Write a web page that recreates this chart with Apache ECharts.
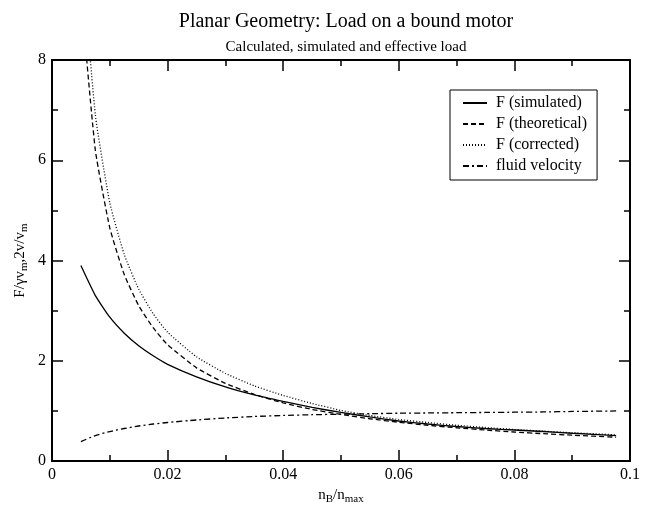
<!DOCTYPE html>
<html>
<head>
<meta charset="utf-8">
<script src="https://cdn.jsdelivr.net/npm/echarts@6/dist/echarts.min.js"></script>
<style>
  html, body { margin: 0; padding: 0; background: #fff; }
  #chart { width: 650px; height: 510px; }
</style>
</head>
<body>
<div id="chart"></div>
<script>
// n_B / n_max sample points
const nB = [0.005, 0.0075, 0.01, 0.0125, 0.015, 0.0175, 0.02, 0.025, 0.03, 0.035, 0.04,
  0.045, 0.05, 0.055, 0.06, 0.065, 0.07, 0.075, 0.08, 0.085, 0.09, 0.0976]

const fSimulated = [3.90, 3.30, 2.87, 2.55, 2.30, 2.10, 1.93, 1.68, 1.48, 1.32, 1.19,
  1.07, 0.97, 0.88, 0.80, 0.74, 0.69, 0.65, 0.62, 0.59, 0.555, 0.51]

const fTheoretical = [9.3, 6.2, 4.65, 3.72, 3.10, 2.66, 2.32, 1.86, 1.55, 1.33, 1.16,
  1.03, 0.93, 0.845, 0.775, 0.715, 0.665, 0.62, 0.58, 0.547, 0.517, 0.477]

const fCorrected = [10.3, 6.9, 5.15, 4.12, 3.43, 2.94, 2.57, 2.08, 1.75, 1.50, 1.31,
  1.15, 1.01, 0.91, 0.83, 0.77, 0.715, 0.67, 0.63, 0.597, 0.565, 0.525]

const fluidVelocity = [0.39, 0.51, 0.59, 0.65, 0.70, 0.74, 0.77, 0.82, 0.86, 0.89, 0.91,
  0.925, 0.935, 0.945, 0.955, 0.96, 0.965, 0.97, 0.975, 0.98, 0.99, 1.0]

const seriesNames = ['F (simulated)', 'F (theoretical)', 'F (corrected)', 'fluid velocity']

const font = 'Liberation Serif'
const pair = (ys) => nB.map((x, i) => [x, ys[i]])

const chart = echarts.init(document.getElementById('chart'), null, { renderer: 'canvas' })

const axisCommon = {
  axisLine: { show: true, onZero: false, lineStyle: { color: '#000', width: 2 } },
  axisTick: { show: true, inside: true, length: 11, lineStyle: { color: '#000', width: 1.5 } },
  minorTick: { show: true, splitNumber: 2, length: 6, lineStyle: { color: '#000', width: 1.5 } },
  splitLine: { show: false }
}

const subRich = {
  n: { fontFamily: font, fontSize: 15, color: '#000' },
  s: { fontFamily: font, fontSize: 11, color: '#000', verticalAlign: 'bottom', padding: [8, 0, 0, 0] }
}

const line = (name, data, type) => ({
  name,
  type: 'line',
  data,
  symbol: 'none',
  smooth: 0.15,
  clip: true,
  lineStyle: { color: '#000', width: 1.3, type },
  itemStyle: { color: '#000' }
})

chart.setOption({
  backgroundColor: '#fff',
  animation: false,
  title: [
    {
      text: 'Planar Geometry: Load on a bound motor',
      left: 341, top: 7, textAlign: 'center',
      textStyle: { fontFamily: font, fontSize: 20, fontWeight: 'normal', color: '#000' }
    },
    {
      text: 'Calculated, simulated and effective load',
      left: 341, top: 35, textAlign: 'center',
      textStyle: { fontFamily: font, fontSize: 15, fontWeight: 'normal', color: '#000' }
    }
  ],
  grid: { left: 52, right: 20, top: 60, bottom: 45 },
  legend: {
    orient: 'vertical',
    left: 450, top: 90,
    padding: [5, 10, 6, 12],
    itemGap: 5,
    itemWidth: 24,
    itemHeight: 14,
    borderColor: '#000',
    borderWidth: 1,
    backgroundColor: '#fff',
    itemStyle: { opacity: 0 },
    data: seriesNames,
    textStyle: { fontFamily: font, fontSize: 16, color: '#000', padding: [0, 0, 0, 4] }
  },
  xAxis: [
    {
      type: 'value', min: 0, max: 0.1, interval: 0.02,
      name: '{n|n}{s|B}{n|/n}{s|max}',
      nameLocation: 'middle', nameGap: 22,
      nameTextStyle: { rich: subRich },
      axisLabel: { fontFamily: font, fontSize: 16, color: '#000', margin: 6 },
      ...axisCommon
    },
    {
      type: 'value', min: 0, max: 0.1, interval: 0.02, position: 'top',
      axisLabel: { show: false },
      ...axisCommon
    }
  ],
  yAxis: [
    {
      type: 'value', min: 0, max: 8, interval: 2,
      name: '{n|F/γv}{s|m}{n|,2v/v}{s|m}',
      nameLocation: 'middle', nameGap: 22, nameRotate: 90,
      nameMoveOverlap: false,
      nameTextStyle: { rich: subRich },
      axisLabel: { fontFamily: font, fontSize: 16, color: '#000', margin: 6 },
      ...axisCommon
    },
    {
      type: 'value', min: 0, max: 8, interval: 2, position: 'right',
      axisLabel: { show: false },
      ...axisCommon
    }
  ],
  series: [
    line(seriesNames[0], pair(fSimulated), 'solid'),
    line(seriesNames[1], pair(fTheoretical), [5, 3]),
    line(seriesNames[2], pair(fCorrected), [1, 2]),
    line(seriesNames[3], pair(fluidVelocity), [6, 3, 2, 3])
  ]
})
</script>
</body>
</html>
